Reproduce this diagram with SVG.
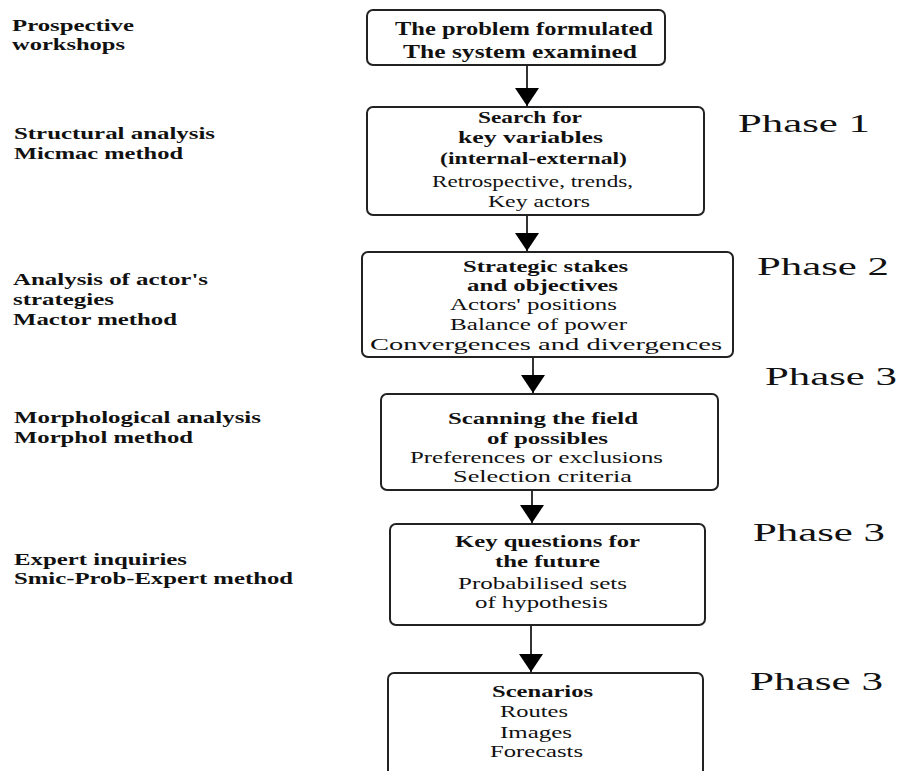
<svg xmlns="http://www.w3.org/2000/svg" width="904" height="771" viewBox="0 0 904 771" font-family="'Liberation Serif', 'Times New Roman', Times, serif">
<style>
  text { font-family: 'Liberation Serif', 'Times New Roman', Times, serif; fill: #111; }
  .lbl { font-size: 17px; font-weight: bold; }
  .hd { font-size: 16px; font-weight: bold; }
  .tx { font-size: 16px; }
  .big { font-size: 18px; font-weight: bold; }
  .ph { font-size: 26px; }
  .box { fill: #fff; stroke: #222; stroke-width: 2; }
  .conn { stroke: #333; stroke-width: 2; fill: none; }
</style>
<defs>
  <marker id="arr" viewBox="0 0 18 24" refX="18" refY="12" markerWidth="18" markerHeight="24" markerUnits="userSpaceOnUse" orient="auto">
    <path d="M0,0 L18,12 L0,24 Z" fill="#000"/>
  </marker>
</defs>
<rect width="904" height="771" fill="#fff"/>

<g id="left-labels">
  <text class="lbl" x="12" y="31" textLength="122" lengthAdjust="spacingAndGlyphs">Prospective</text>
  <text class="lbl" x="12" y="50" textLength="113" lengthAdjust="spacingAndGlyphs">workshops</text>
  <text class="lbl" x="14" y="139" textLength="201" lengthAdjust="spacingAndGlyphs">Structural analysis</text>
  <text class="lbl" x="14" y="159" textLength="169" lengthAdjust="spacingAndGlyphs">Micmac method</text>
  <text class="lbl" x="13" y="285" textLength="195" lengthAdjust="spacingAndGlyphs">Analysis of actor's</text>
  <text class="lbl" x="13" y="305" textLength="101" lengthAdjust="spacingAndGlyphs">strategies</text>
  <text class="lbl" x="13" y="325" textLength="164" lengthAdjust="spacingAndGlyphs">Mactor method</text>
  <text class="lbl" x="14" y="423" textLength="247" lengthAdjust="spacingAndGlyphs">Morphological analysis</text>
  <text class="lbl" x="14" y="443" textLength="179" lengthAdjust="spacingAndGlyphs">Morphol method</text>
  <text class="lbl" x="14" y="565" textLength="173" lengthAdjust="spacingAndGlyphs">Expert inquiries</text>
  <text class="lbl" x="14" y="584" textLength="279" lengthAdjust="spacingAndGlyphs">Smic-Prob-Expert method</text>
</g>

<g id="phase-labels">
  <text class="ph" x="738" y="132" textLength="132" lengthAdjust="spacingAndGlyphs">Phase 1</text>
  <text class="ph" x="757" y="275" textLength="132" lengthAdjust="spacingAndGlyphs">Phase 2</text>
  <text class="ph" x="765" y="385" textLength="132" lengthAdjust="spacingAndGlyphs">Phase 3</text>
  <text class="ph" x="753" y="541" textLength="132" lengthAdjust="spacingAndGlyphs">Phase 3</text>
  <text class="ph" x="750" y="690" textLength="133" lengthAdjust="spacingAndGlyphs">Phase 3</text>
</g>

<g id="connectors">
  <line class="conn" x1="527" y1="65" x2="527" y2="106" marker-end="url(#arr)"/>
  <line class="conn" x1="527" y1="215" x2="527" y2="251" marker-end="url(#arr)"/>
  <line class="conn" x1="533" y1="357" x2="533" y2="393" marker-end="url(#arr)"/>
  <line class="conn" x1="532" y1="490" x2="532" y2="523" marker-end="url(#arr)"/>
  <line class="conn" x1="531" y1="625" x2="531" y2="672" marker-end="url(#arr)"/>
</g>

<g id="node-problem">
  <rect class="box" x="367" y="10" width="298" height="55" rx="6"/>
  <text class="big" x="395" y="35" textLength="258" lengthAdjust="spacingAndGlyphs">The problem formulated</text>
  <text class="big" x="403" y="58" textLength="234" lengthAdjust="spacingAndGlyphs">The system examined</text>
</g>

<g id="node-search">
  <rect class="box" x="367" y="107" width="337" height="108" rx="6"/>
  <text class="hd" x="478" y="123" textLength="104" lengthAdjust="spacingAndGlyphs">Search for</text>
  <text class="hd" x="458" y="143" textLength="145" lengthAdjust="spacingAndGlyphs">key variables</text>
  <text class="hd" x="440" y="164" textLength="187" lengthAdjust="spacingAndGlyphs">(internal-external)</text>
  <text class="tx" x="432" y="187" textLength="201" lengthAdjust="spacingAndGlyphs">Retrospective, trends,</text>
  <text class="tx" x="488" y="207" textLength="102" lengthAdjust="spacingAndGlyphs">Key actors</text>
</g>

<g id="node-strategic">
  <rect class="box" x="362" y="252" width="371" height="105" rx="6"/>
  <text class="hd" x="463" y="272" textLength="165" lengthAdjust="spacingAndGlyphs">Strategic stakes</text>
  <text class="hd" x="467" y="291" textLength="151" lengthAdjust="spacingAndGlyphs">and objectives</text>
  <text class="tx" x="450" y="310" textLength="167" lengthAdjust="spacingAndGlyphs">Actors' positions</text>
  <text class="tx" x="450" y="330" textLength="177" lengthAdjust="spacingAndGlyphs">Balance of power</text>
  <text class="tx" x="370" y="350" textLength="352" lengthAdjust="spacingAndGlyphs">Convergences and divergences</text>
</g>

<g id="node-scanning">
  <rect class="box" x="381" y="394" width="337" height="96" rx="6"/>
  <text class="hd" x="448" y="424" textLength="190" lengthAdjust="spacingAndGlyphs">Scanning the field</text>
  <text class="hd" x="487" y="444" textLength="121" lengthAdjust="spacingAndGlyphs">of possibles</text>
  <text class="tx" x="410" y="463" textLength="253" lengthAdjust="spacingAndGlyphs">Preferences or exclusions</text>
  <text class="tx" x="453" y="482" textLength="179" lengthAdjust="spacingAndGlyphs">Selection criteria</text>
</g>

<g id="node-questions">
  <rect class="box" x="390" y="524" width="315" height="101" rx="6"/>
  <text class="hd" x="455" y="547" textLength="185" lengthAdjust="spacingAndGlyphs">Key questions for</text>
  <text class="hd" x="495" y="567" textLength="105" lengthAdjust="spacingAndGlyphs">the future</text>
  <text class="tx" x="458" y="589" textLength="169" lengthAdjust="spacingAndGlyphs">Probabilised sets</text>
  <text class="tx" x="475" y="608" textLength="133" lengthAdjust="spacingAndGlyphs">of hypothesis</text>
</g>

<g id="node-scenarios">
  <rect class="box" x="388" y="673" width="315" height="110" rx="6"/>
  <text class="hd" x="492" y="697" textLength="101" lengthAdjust="spacingAndGlyphs">Scenarios</text>
  <text class="tx" x="500" y="717" textLength="68" lengthAdjust="spacingAndGlyphs">Routes</text>
  <text class="tx" x="500" y="738" textLength="72" lengthAdjust="spacingAndGlyphs">Images</text>
  <text class="tx" x="490" y="757" textLength="93" lengthAdjust="spacingAndGlyphs">Forecasts</text>
</g>
</svg>
